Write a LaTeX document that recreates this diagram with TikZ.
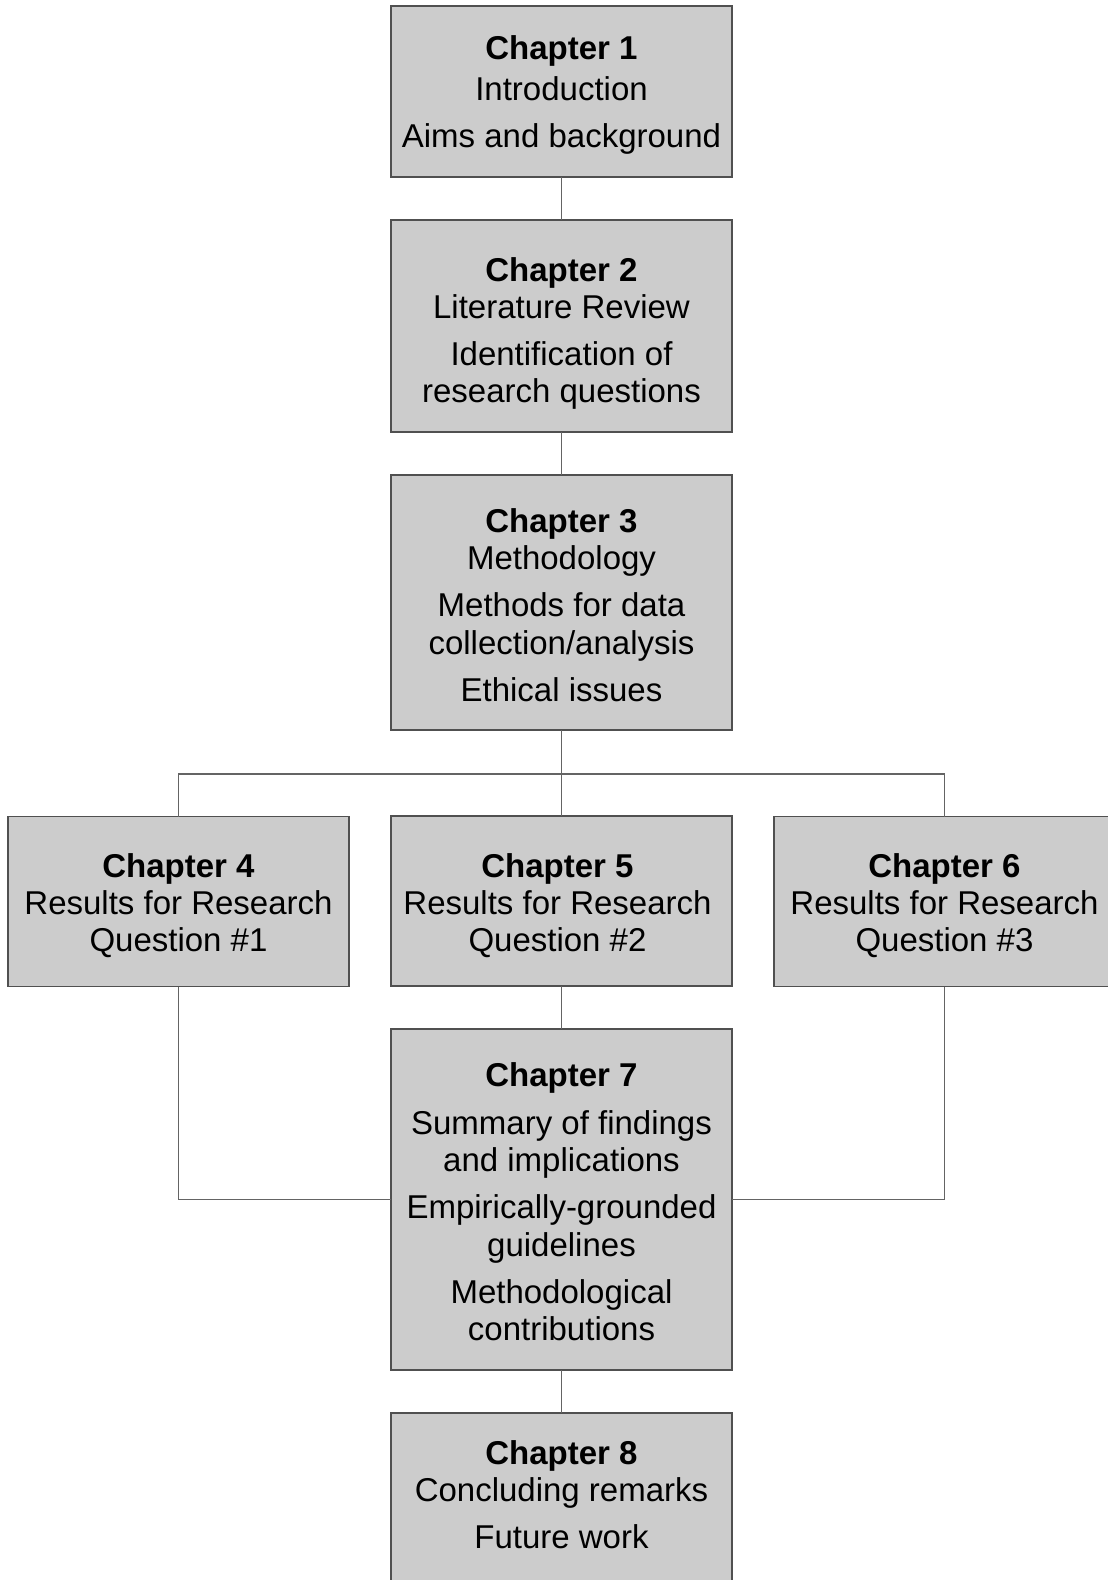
\documentclass[tikz,border=0pt]{standalone}
\usepackage{fontspec}
\setmainfont{Liberation Sans}
\definecolor{boxfill}{RGB}{204,204,204}
\definecolor{boxline}{RGB}{80,80,80}
\definecolor{conline}{RGB}{100,100,100}
\begin{document}
\begin{tikzpicture}[x=1pt,y=-1pt,
  chbox/.style={draw=boxline,fill=boxfill,line width=1.4pt,minimum width=341pt,
    inner sep=0pt,outer sep=0pt},
  chtext/.style={inner sep=0pt,outer sep=0pt,align=center,
    font=\fontsize{33}{37.3}\selectfont},
  conn/.style={draw=conline,line width=1.4pt}]
\useasboundingbox (0,0) rectangle (1108,1580);
\node[chbox,minimum height=171pt] (ch1) at (561.5,91.5) {};
\node[chtext] (ch1t) at (561.5,95)
  {\textbf{Chapter 1}\\[3.5pt]Introduction\\[10.5pt]Aims and background};
\node[chbox,minimum height=212pt] (ch2) at (561.5,326) {};
\node[chtext] (ch2t) at (561.5,333.5)
  {\textbf{Chapter 2}\\Literature Review\\[10pt]Identification of\\research questions};
\node[chbox,minimum height=255pt] (ch3) at (561.5,602.5) {};
\node[chtext] (ch3t) at (561.5,605)
  {\textbf{Chapter 3}\\Methodology\\[10pt]Methods for data\\collection/analysis\\[10pt]Ethical issues};
\node[chbox,minimum height=170pt] (ch4) at (178.5,901.5) {};
\node[chtext] (ch4t) at (178.5,905.5)
  {\textbf{Chapter 4}\\Results for Research\\Question \#1};
\node[chbox,minimum height=170pt] (ch5) at (561.5,901) {};
\node[chtext] (ch5t) at (557.5,905.5)
  {\textbf{Chapter 5}\\Results for Research\\Question \#2};
\node[chbox,minimum height=170pt] (ch6) at (944.5,901.5) {};
\node[chtext] (ch6t) at (944.5,905.5)
  {\textbf{Chapter 6}\\Results for Research\\Question \#3};
\node[chbox,minimum height=341pt] (ch7) at (561.5,1199.5) {};
\node[chtext] (ch7t) at (561.5,1202)
  {\textbf{Chapter 7}\\[10pt]Summary of findings\\and implications\\[10pt]Empirically-grounded\\guidelines\\[10pt]Methodological\\contributions};
\node[chbox,minimum height=200pt,anchor=north] (ch8) at (561.5,1413) {};
\node[chtext] (ch8t) at (561.5,1494.5)
  {\textbf{Chapter 8}\\Concluding remarks\\[10pt]Future work};
\coordinate (jn) at (561.5,774);
\draw[conn] (ch1.south) -- (ch2.north);
\draw[conn] (ch2.south) -- (ch3.north);
\draw[conn] (ch3.south) -- (ch5.north);
\draw[conn] (ch4.north) |- (jn) -| (ch6.north);
\draw[conn] (ch5.south) -- (ch7.north);
\draw[conn] (ch4.south) |- (ch7.west);
\draw[conn] (ch6.south) |- (ch7.east);
\draw[conn] (ch7.south) -- (ch8.north);
\end{tikzpicture}
\end{document}
